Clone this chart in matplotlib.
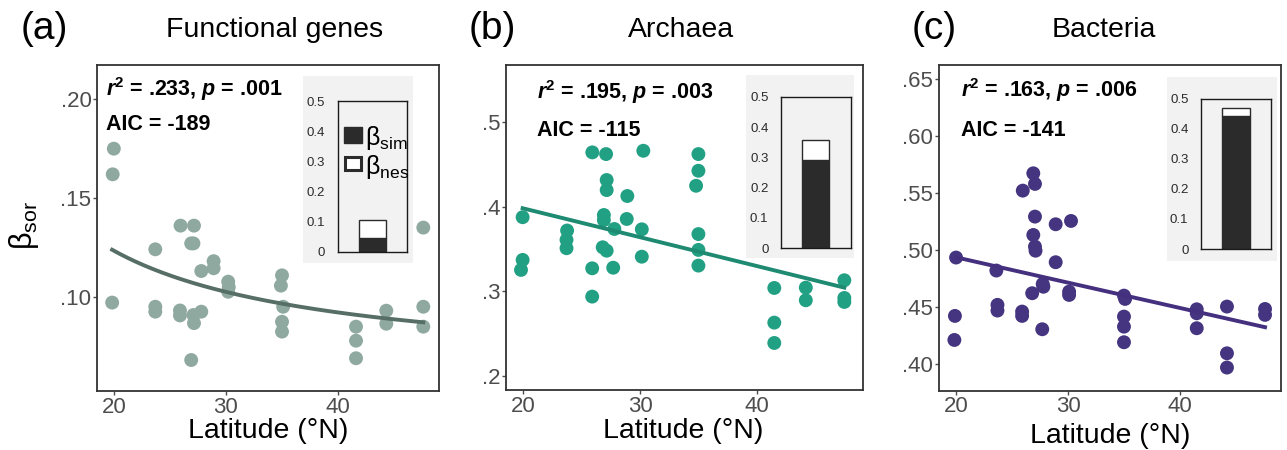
import numpy as np
import matplotlib
matplotlib.use("Agg")
import matplotlib.pyplot as plt
from matplotlib.patches import Rectangle

plt.rcParams["font.family"] = ["Liberation Sans", "DejaVu Sans"]
plt.rcParams["mathtext.fontset"] = "custom"
plt.rcParams["mathtext.rm"] = "Liberation Sans"
plt.rcParams["mathtext.it"] = "Liberation Sans:italic"
plt.rcParams["mathtext.bf"] = "Liberation Sans:bold"
plt.rcParams["mathtext.bfit"] = "Liberation Sans:italic:bold"

# beta_sor vs latitude, one panel per community
func_lat = [20.0, 19.9, 19.85, 23.7, 23.7, 23.7, 25.95, 25.9, 25.9,
            27.15, 26.9, 27.1, 27.1, 27.8, 27.15, 26.9, 27.8, 28.9, 28.9,
            30.2, 30.25, 30.2, 35.0, 34.9, 35.1, 35.0, 35.0,
            41.6, 41.6, 41.6, 44.3, 44.3, 47.6, 47.6, 47.6]
func_beta = [.175, .162, .097, .124, .0949, .0924, .136, .0930, .0905,
             .136, .127, .127, .0907, .0924, .0866, .0679, .113, .118, .1144,
             .1076, .1048, .1025, .1108, .1056, .0949, .0873, .0823,
             .0848, .0777, .0688, .0929, .0863, .135, .0949, .0848]

arch_lat = [19.94, 19.94, 19.8, 23.75, 23.7, 23.7, 25.91, 25.9, 25.9,
            27.09, 27.14, 27.14, 26.9, 26.9, 26.8, 27.14, 27.8, 27.7,
            28.91, 28.86, 30.28, 30.15, 30.15,
            35.0, 35.0, 34.8, 35.0, 35.0, 35.0,
            41.5, 41.5, 41.5, 44.2, 44.2, 47.5, 47.5, 47.5]
arch_beta = [.3874, .3370, .3252, .3717, .3607, .3508, .4639, .3271, .2937,
             .4619, .4313, .4194, .390, .384, .3519, .3479, .3735, .3278,
             .4124, .3853, .4658, .3731, .3408,
             .4619, .4422, .4245, .3675, .3488, .3303,
             .3039, .2630, .2390, .3043, .2894, .3130, .2921, .2874]

bact_lat = [20.0, 19.9, 19.85, 23.6, 23.7, 23.7, 25.96, 25.9, 25.9,
            26.9, 27.05, 27.05, 26.9, 27.05, 27.1, 26.8, 27.74, 27.8, 27.7,
            28.9, 28.9, 30.27, 30.1, 30.1,
            35.0, 35.1, 35.0, 35.0, 35.0,
            41.5, 41.5, 41.5, 44.2, 44.2, 44.2, 47.6, 47.6]
bact_beta = [.4936, .4424, .4213, .4822, .4521, .4471, .5523, .4462, .4424,
             .5675, .5582, .5295, .5134, .5032, .4996, .4623, .4704, .468, .4307,
             .5228, .4895, .5257, .4637, .4608,
             .4602, .4573, .4418, .4330, .4193,
             .4482, .4447, .4316, .4506, .4096, .3971, .4485, .4433]

# fitted models: a + b/lat for functional genes, straight lines for the others
func_fit = (0.0607, 1.252)
arch_fit_x, arch_fit_y = [19.94, 47.5], [0.398, 0.3043]
bact_fit_x, bact_fit_y = [20.0, 47.6], [0.4938, 0.4325]

# turnover / nestedness partition of beta_sor
sim_part = [0.046, 0.291, 0.443]
nes_part = [0.058, 0.066, 0.025]

stats = [(".233", ".001", "-189"), (".195", ".003", "-115"), (".163", ".006", "-141")]
titles = ["Functional genes", "Archaea", "Bacteria"]
letters = ["(a)", "(b)", "(c)"]

W, H = 1287, 450
fig = plt.figure(figsize=(W / 100, H / 100), dpi=100)


def px_rect(x0, y0, x1, y1):
    return [x0 / W, 1 - y1 / H, (x1 - x0) / W, (y1 - y0) / H]


main_boxes = [(97, 65, 439, 391), (505.7, 65, 863, 390), (938.7, 65, 1280.7, 390.7)]
gray_boxes = [(302.7, 76, 412.7, 263.3), (746, 75, 854, 258.3), (1166.7, 77.3, 1276.7, 260.7)]
inset_boxes = [(337.7, 101, 406.7, 251.7), (781, 96.7, 850.7, 248.3), (1201, 98.7, 1271, 249)]
xlims = [(18.5, 49.0), (18.49, 49.1), (18.45, 49.0)]
ylims = [(0.0522, 0.2174), (0.1835, 0.567), (0.3768, 0.6625)]
yticks = [[0.10, 0.15, 0.20], [0.2, 0.3, 0.4, 0.5], [0.40, 0.45, 0.50, 0.55, 0.60, 0.65]]
yticklabels = [[".10", ".15", ".20"], [".2", ".3", ".4", ".5"],
               [".40", ".45", ".50", ".55", ".60", ".65"]]
dot_colors = ["#8fa9a1", "#22a084", "#45347f"]
line_colors = ["#566e66", "#1e8a72", "#44307e"]
text_pos = [(0.026, 0.926, 0.819), (0.088, 0.918, 0.80), (0.065, 0.923, 0.80)]
title_x = [275, 681, 1104]
letter_x = [21, 469, 912]
xlabel_pos = [(268, 438), (683, 437.5), (1110, 443)]

lats = [func_lat, arch_lat, bact_lat]
betas = [func_beta, arch_beta, bact_beta]

for i in range(3):
    ax = fig.add_axes(px_rect(*main_boxes[i]))
    ax.scatter(lats[i], betas[i], s=100, color=dot_colors[i], edgecolors="none", zorder=2)
    if i == 0:
        xs = np.linspace(min(func_lat), max(func_lat), 200)
        ax.plot(xs, func_fit[0] + func_fit[1] / xs, color=line_colors[i], lw=2.8, zorder=3)
    elif i == 1:
        ax.plot(arch_fit_x, arch_fit_y, color=line_colors[i], lw=2.8, zorder=3)
    else:
        ax.plot(bact_fit_x, bact_fit_y, color=line_colors[i], lw=2.8, zorder=3)

    ax.set_xlim(*xlims[i])
    ax.set_ylim(*ylims[i])
    ax.set_xticks([20, 30, 40])
    ax.set_yticks(yticks[i])
    ax.set_yticklabels(yticklabels[i])
    ax.tick_params(labelsize=16, colors="#4d4d4d", length=3, width=1, pad=1)
    for sp in ax.spines.values():
        sp.set_color("#333333")
        sp.set_linewidth(1.3)

    r2, p, aic = stats[i]
    tx, ty1, ty2 = text_pos[i]
    ax.text(tx, ty1, r"$\mathbfit{r}^{\mathbf{2}}$ = " + r2 + r", $\mathbfit{p}$ = " + p,
            transform=ax.transAxes, fontsize=15.5, fontweight="bold", va="center", ha="left")
    ax.text(tx, ty2, "AIC = " + aic, transform=ax.transAxes, fontsize=15.5,
            fontweight="bold", va="center", ha="left")

    fig.text(title_x[i] / W, 1 - 37 / H, titles[i], fontsize=20.5, ha="center", va="baseline")
    fig.text(letter_x[i] / W, 1 - 39 / H, letters[i], fontsize=28, ha="left", va="baseline")
    fig.text(xlabel_pos[i][0] / W, 1 - xlabel_pos[i][1] / H, "Latitude (°N)",
             fontsize=20.5, ha="center", va="baseline")

    # stacked partition bar
    bg = fig.add_axes(px_rect(*gray_boxes[i]), zorder=3)
    bg.set_facecolor("#f2f2f2")
    bg.set_xticks([])
    bg.set_yticks([])
    for sp in bg.spines.values():
        sp.set_visible(False)

    inset = fig.add_axes(px_rect(*inset_boxes[i]), zorder=4)
    inset.set_facecolor("#f2f2f2")
    inset.bar(0, sim_part[i], width=0.39, color="#2b2b2b", edgecolor="#2b2b2b", lw=1)
    inset.bar(0, nes_part[i], bottom=sim_part[i], width=0.39, color="white",
              edgecolor="#2b2b2b", lw=1)
    inset.set_xlim(-0.5, 0.5)
    inset.set_ylim(0, 0.5)
    inset.set_xticks([])
    inset.set_yticks([0, 0.1, 0.2, 0.3, 0.4, 0.5])
    inset.set_yticklabels(["0", "0.1", "0.2", "0.3", "0.4", "0.5"])
    inset.tick_params(length=0, pad=9, labelsize=9.5, colors="#2b2b2b")
    for sp in inset.spines.values():
        sp.set_color("#1a1a1a")
        sp.set_linewidth(1)

    if i == 0:
        # key for the two components, drawn inside the first inset
        inset.add_patch(Rectangle((0.096, 0.723), 0.25, 0.106, transform=inset.transAxes,
                                  facecolor="#2b2b2b", edgecolor="#2b2b2b", lw=1))
        inset.add_patch(Rectangle((0.11, 0.545), 0.225, 0.085, transform=inset.transAxes,
                                  facecolor="white", edgecolor="#2b2b2b", lw=2.2))
        inset.text(0.40, 0.752, r"$\mathrm{β_{sim}}$", transform=inset.transAxes,
                   fontsize=18, ha="left", va="center", clip_on=False)
        inset.text(0.40, 0.565, r"$\mathrm{β_{nes}}$", transform=inset.transAxes,
                   fontsize=18, ha="left", va="center", clip_on=False)

fig.text(24 / W, 0.5, r"$\mathrm{β_{sor}}$", fontsize=22, rotation=90,
         ha="center", va="center")

fig.savefig("out.png", dpi=100)
